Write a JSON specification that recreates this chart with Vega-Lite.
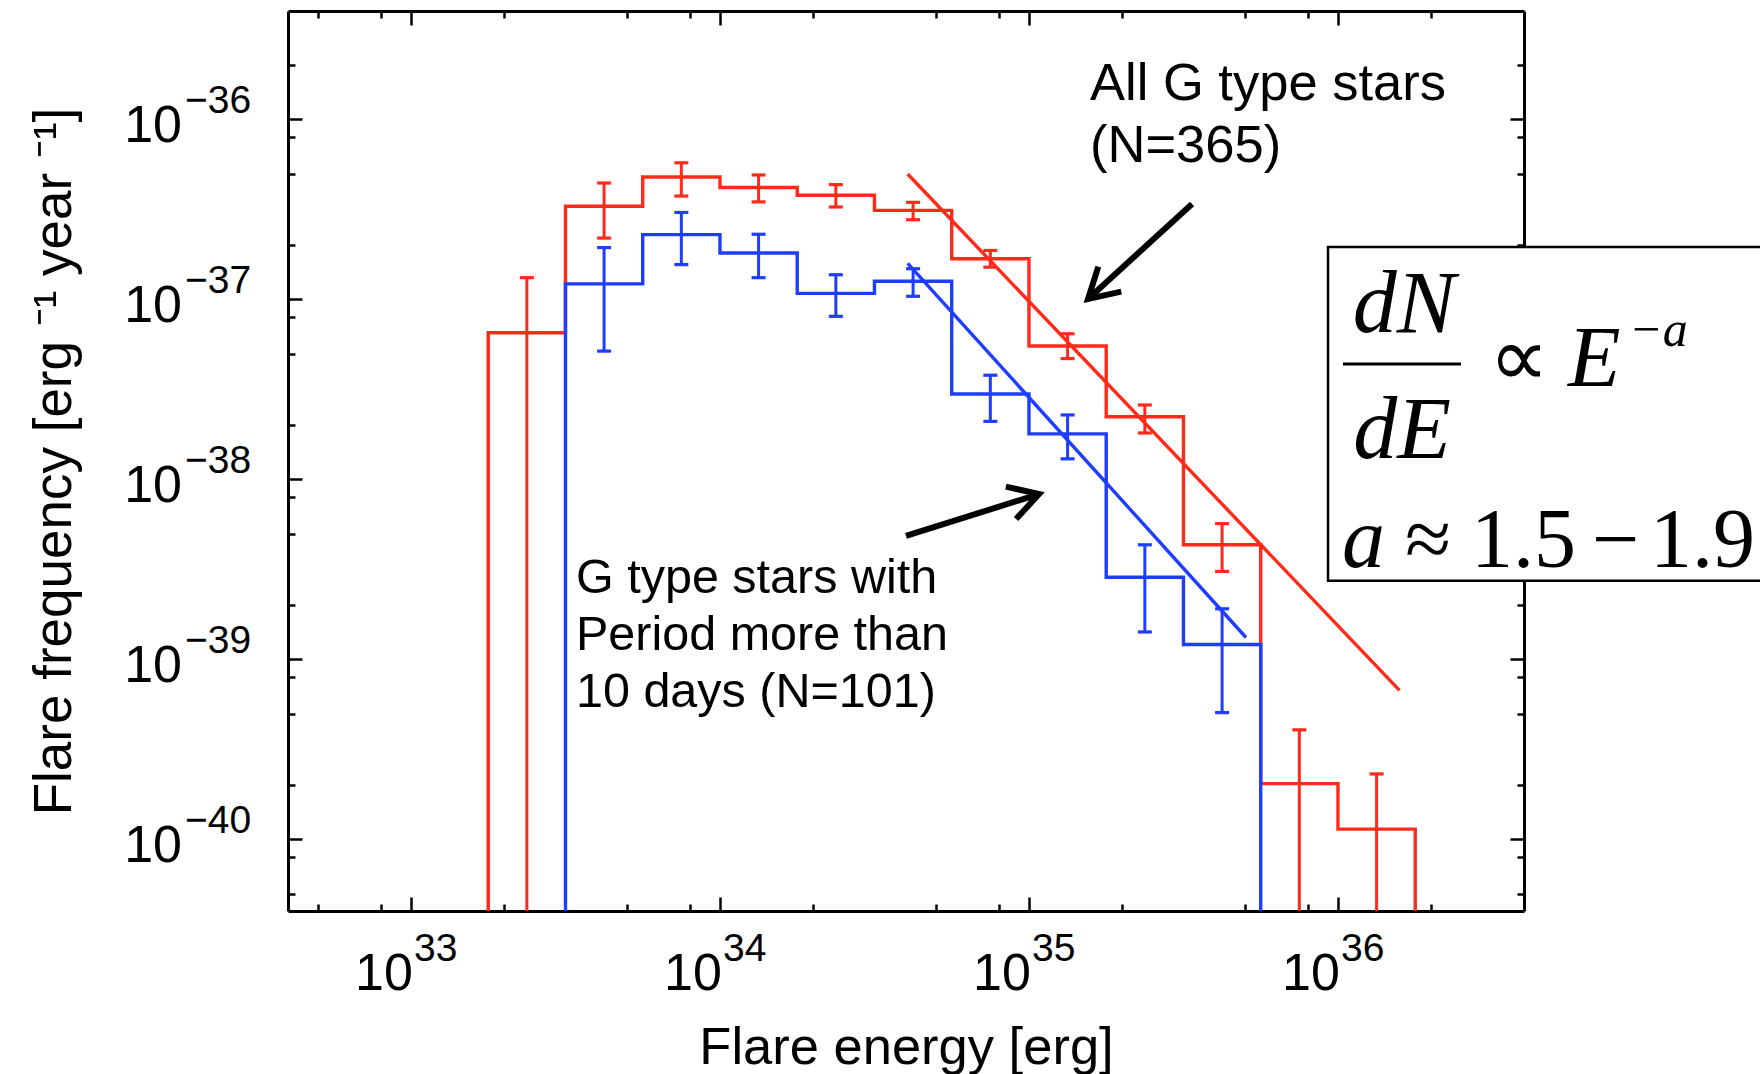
{
  "$schema": "https://vega.github.io/schema/vega-lite/v6.json",
  "width": 1236,
  "height": 900,
  "autosize": "none",
  "padding": {"left": 288, "top": 11, "right": 236, "bottom": 163},
  "background": "white",
  "config": {
    "font": "Liberation Sans",
    "view": {"stroke": null},
    "axis": {"grid": false, "labels": false, "domainColor": "black", "domainWidth": 3, "tickColor": "black", "tickWidth": 2.5}
  },
  "datasets": {
    "steps": [
      {"s": "red", "i": 0, "e": 1.7783e33, "f": 1e-42},
      {"s": "red", "i": 1, "e": 1.7783e33, "f": 6.53e-38},
      {"s": "red", "i": 2, "e": 3.1623e33, "f": 3.29e-37},
      {"s": "red", "i": 3, "e": 5.6234e33, "f": 4.78e-37},
      {"s": "red", "i": 4, "e": 1e34, "f": 4.18e-37},
      {"s": "red", "i": 5, "e": 1.7783e34, "f": 3.79e-37},
      {"s": "red", "i": 6, "e": 3.1623e34, "f": 3.12e-37},
      {"s": "red", "i": 7, "e": 5.6234e34, "f": 1.68e-37},
      {"s": "red", "i": 8, "e": 1e35, "f": 5.51e-38},
      {"s": "red", "i": 9, "e": 1.7783e35, "f": 2.23e-38},
      {"s": "red", "i": 10, "e": 3.1623e35, "f": 4.33e-39},
      {"s": "red", "i": 11, "e": 5.6234e35, "f": 2.04e-40},
      {"s": "red", "i": 12, "e": 1e36, "f": 1.14e-40},
      {"s": "red", "i": 13, "e": 1.7783e36, "f": 1.14e-40},
      {"s": "red", "i": 14, "e": 1.7783e36, "f": 1e-42},
      {"s": "blue", "i": 0, "e": 3.1623e33, "f": 1e-42},
      {"s": "blue", "i": 1, "e": 3.1623e33, "f": 1.22e-37},
      {"s": "blue", "i": 2, "e": 5.6234e33, "f": 2.29e-37},
      {"s": "blue", "i": 3, "e": 1e34, "f": 1.81e-37},
      {"s": "blue", "i": 4, "e": 1.7783e34, "f": 1.08e-37},
      {"s": "blue", "i": 5, "e": 3.1623e34, "f": 1.26e-37},
      {"s": "blue", "i": 6, "e": 5.6234e34, "f": 2.98e-38},
      {"s": "blue", "i": 7, "e": 1e35, "f": 1.79e-38},
      {"s": "blue", "i": 8, "e": 1.7783e35, "f": 2.86e-39},
      {"s": "blue", "i": 9, "e": 3.1623e35, "f": 1.21e-39},
      {"s": "blue", "i": 10, "e": 5.6234e35, "f": 1.21e-39},
      {"s": "blue", "i": 11, "e": 5.6234e35, "f": 1e-42}
    ],
    "bins": [
      {"s": "red", "c": 2.3714e33, "lo": 1e-42, "hi": 1.32e-37},
      {"s": "red", "c": 4.217e33, "lo": 2.19e-37, "hi": 4.43e-37},
      {"s": "red", "c": 7.4989e33, "lo": 3.75e-37, "hi": 5.74e-37},
      {"s": "red", "c": 1.3335e34, "lo": 3.48e-37, "hi": 4.91e-37},
      {"s": "red", "c": 2.3714e34, "lo": 3.26e-37, "hi": 4.34e-37},
      {"s": "red", "c": 4.217e34, "lo": 2.77e-37, "hi": 3.46e-37},
      {"s": "red", "c": 7.4989e34, "lo": 1.51e-37, "hi": 1.87e-37},
      {"s": "red", "c": 1.3335e35, "lo": 4.69e-38, "hi": 6.44e-38},
      {"s": "red", "c": 2.3714e35, "lo": 1.81e-38, "hi": 2.59e-38},
      {"s": "red", "c": 4.217e35, "lo": 3.08e-39, "hi": 5.68e-39},
      {"s": "red", "c": 7.4989e35, "lo": 1e-42, "hi": 4.06e-40},
      {"s": "red", "c": 1.3335e36, "lo": 1e-42, "hi": 2.31e-40},
      {"s": "blue", "c": 4.217e33, "lo": 5.16e-38, "hi": 1.94e-37},
      {"s": "blue", "c": 7.4989e33, "lo": 1.56e-37, "hi": 3.04e-37},
      {"s": "blue", "c": 1.3335e34, "lo": 1.32e-37, "hi": 2.3e-37},
      {"s": "blue", "c": 2.3714e34, "lo": 8.05e-38, "hi": 1.37e-37},
      {"s": "blue", "c": 4.217e34, "lo": 1.04e-37, "hi": 1.48e-37},
      {"s": "blue", "c": 7.4989e34, "lo": 2.1e-38, "hi": 3.79e-38},
      {"s": "blue", "c": 1.3335e35, "lo": 1.3e-38, "hi": 2.28e-38},
      {"s": "blue", "c": 2.3714e35, "lo": 1.42e-39, "hi": 4.33e-39},
      {"s": "blue", "c": 4.217e35, "lo": 5.06e-40, "hi": 1.91e-39}
    ],
    "fits": [
      {"s": "red", "e": 4.05e34, "f": 4.97e-37},
      {"s": "red", "e": 1.582e36, "f": 6.73e-40},
      {"s": "blue", "e": 4.05e34, "f": 1.586e-37},
      {"s": "blue", "e": 5.04e35, "f": 1.323e-39}
    ],
    "arrows": [
      {"id": 1, "x": 3.37e35, "y": 3.39e-37, "x2": 1.553e35, "y2": 1.005e-37},
      {"id": 2, "x": 4.0e34, "y": 4.85e-39, "x2": 1.078e35, "y2": 8.29e-39}
    ],
    "notes": [
      {"id": "all", "t": "All G type stars\n(N=365)", "x": 1.576e35, "y": 1.281e-36},
      {"id": "p10", "t": "G type stars with\nPeriod more than\n10 days (N=101)", "x": 3.42e33, "y": 2.34e-39}
    ],
    "box": [
      {"x": 9.285e35, "x2": 2.7e37, "y": 1.954e-37, "y2": 2.73e-39}
    ],
    "bar": [
      {"x": 1.038e36, "x2": 2.502e36, "y": 4.37e-38}
    ],
    "formula": [
      {"t": "dN", "x": 1.636e36, "y": 6.59e-38, "r": "frac"},
      {"t": "dE", "x": 1.612e36, "y": 1.31e-38, "r": "frac"},
      {"t": "E", "x": 5.552e36, "y": 3.3e-38, "r": "big"},
      {"t": "a", "x": 1.0305e36, "y": 3.26e-39, "r": "big"},
      {"t": "∝", "x": 3.083e36, "y": 3.3e-38, "r": "op"},
      {"t": "≈", "x": 1.648e36, "y": 3.26e-39, "r": "op"},
      {"t": "1.5", "x": 2.695e36, "y": 3.26e-39, "r": "op"},
      {"t": "−", "x": 6.639e36, "y": 3.26e-39, "r": "op"},
      {"t": "1.9", "x": 1.023e37, "y": 3.26e-39, "r": "op"},
      {"t": "−a", "x": 8.75e36, "y": 5.51e-38, "r": "sup"}
    ],
    "xlab": [
      {"v": 1e33, "exp": "33"},
      {"v": 1e34, "exp": "34"},
      {"v": 1e35, "exp": "35"},
      {"v": 1e36, "exp": "36"}
    ],
    "ylab": [
      {"v": 1e-36, "exp": "−36"},
      {"v": 1e-37, "exp": "−37"},
      {"v": 1e-38, "exp": "−38"},
      {"v": 1e-39, "exp": "−39"},
      {"v": 1e-40, "exp": "−40"}
    ]
  },
  "layer": [
    {
      "data": {"name": "steps"},
      "mark": {"type": "line", "interpolate": "step-after", "strokeWidth": 3.4, "clip": true},
      "encoding": {
        "x": {"field": "e", "type": "quantitative", "scale": {"type": "log", "domain": [4e32, 4e36]},
          "axis": {"orient": "bottom", "values": [5e32, 8e32, 1e33, 2e33, 5e33, 8e33, 1e34, 2e34, 5e34, 8e34, 1e35, 2e35, 5e35, 8e35, 1e36, 2e36],
            "tickSize": {"condition": {"test": "abs(log(datum.value)/LN10 - round(log(datum.value)/LN10)) < 0.01", "value": -14}, "value": -7},
            "title": "Flare energy [erg]", "titleFont": "Liberation Sans", "titleFontSize": 52.5, "titleFontWeight": "normal", "titleColor": "black", "titleY": 152, "titleBaseline": "alphabetic"}},
        "y": {"field": "f", "type": "quantitative", "scale": {"type": "log", "domain": [4e-41, 4e-36]},
          "axis": {"orient": "left", "values": [5e-41, 8e-41, 1e-40, 2e-40, 5e-40, 8e-40, 1e-39, 2e-39, 5e-39, 8e-39, 1e-38, 2e-38, 5e-38, 8e-38, 1e-37, 2e-37, 5e-37, 8e-37, 1e-36, 2e-36],
            "tickSize": {"condition": {"test": "abs(log(datum.value)/LN10 - round(log(datum.value)/LN10)) < 0.01", "value": -14}, "value": -7},
            "title": "Flare frequency [erg ⁻¹  year ⁻¹]", "titleFont": "Liberation Sans", "titleFontSize": 53, "titleFontWeight": "normal", "titleColor": "black", "titleX": -218, "titleBaseline": "alphabetic"}},
        "color": {"field": "s", "type": "nominal", "scale": {"domain": ["red", "blue"], "range": ["#ff2a1a", "#1f3dff"]}, "legend": null},
        "order": {"field": "i", "type": "quantitative"}
      }
    },
    {
      "data": {"name": "bins"},
      "mark": {"type": "rule", "strokeWidth": 3, "clip": true},
      "encoding": {
        "x": {"field": "c", "type": "quantitative", "scale": {"type": "log", "domain": [4e32, 4e36]},
          "axis": {"orient": "top", "values": [5e32, 8e32, 1e33, 2e33, 5e33, 8e33, 1e34, 2e34, 5e34, 8e34, 1e35, 2e35, 5e35, 8e35, 1e36, 2e36],
            "tickSize": {"condition": {"test": "abs(log(datum.value)/LN10 - round(log(datum.value)/LN10)) < 0.01", "value": -14}, "value": -7},
            "title": null}},
        "y": {"field": "lo", "type": "quantitative", "scale": {"type": "log", "domain": [4e-41, 4e-36]},
          "axis": {"orient": "right", "values": [5e-41, 8e-41, 1e-40, 2e-40, 5e-40, 8e-40, 1e-39, 2e-39, 5e-39, 8e-39, 1e-38, 2e-38, 5e-38, 8e-38, 1e-37, 2e-37, 5e-37, 8e-37, 1e-36, 2e-36],
            "tickSize": {"condition": {"test": "abs(log(datum.value)/LN10 - round(log(datum.value)/LN10)) < 0.01", "value": -14}, "value": -7},
            "title": null}},
        "y2": {"field": "hi"},
        "color": {"field": "s", "type": "nominal", "scale": {"domain": ["red", "blue"], "range": ["#ff2a1a", "#1f3dff"]}, "legend": null}
      }
    },
    {
      "data": {"name": "bins"},
      "mark": {"type": "tick", "orient": "horizontal", "size": 14, "thickness": 3.2, "opacity": 1, "clip": true},
      "encoding": {
        "x": {"field": "c", "type": "quantitative", "scale": {"type": "log", "domain": [4e32, 4e36]}, "axis": null},
        "y": {"field": "lo", "type": "quantitative", "scale": {"type": "log", "domain": [4e-41, 4e-36]}, "axis": null},
        "color": {"field": "s", "type": "nominal", "scale": {"domain": ["red", "blue"], "range": ["#ff2a1a", "#1f3dff"]}, "legend": null}
      }
    },
    {
      "data": {"name": "bins"},
      "mark": {"type": "tick", "orient": "horizontal", "size": 14, "thickness": 3.2, "opacity": 1, "clip": true},
      "encoding": {
        "x": {"field": "c", "type": "quantitative", "scale": {"type": "log", "domain": [4e32, 4e36]}, "axis": null},
        "y": {"field": "hi", "type": "quantitative", "scale": {"type": "log", "domain": [4e-41, 4e-36]}, "axis": null},
        "color": {"field": "s", "type": "nominal", "scale": {"domain": ["red", "blue"], "range": ["#ff2a1a", "#1f3dff"]}, "legend": null}
      }
    },
    {
      "data": {"name": "fits"},
      "mark": {"type": "line", "strokeWidth": 3.4},
      "encoding": {
        "x": {"field": "e", "type": "quantitative", "scale": {"type": "log", "domain": [4e32, 4e36]}, "axis": null},
        "y": {"field": "f", "type": "quantitative", "scale": {"type": "log", "domain": [4e-41, 4e-36]}, "axis": null},
        "color": {"field": "s", "type": "nominal", "scale": {"domain": ["red", "blue"], "range": ["#ff2a1a", "#1f3dff"]}, "legend": null}
      }
    },
    {
      "data": {"name": "arrows"},
      "mark": {"type": "rule", "strokeWidth": 6, "color": "black"},
      "encoding": {
        "x": {"field": "x", "type": "quantitative", "scale": {"type": "log", "domain": [4e32, 4e36]}, "axis": null},
        "y": {"field": "y", "type": "quantitative", "scale": {"type": "log", "domain": [4e-41, 4e-36]}, "axis": null},
        "x2": {"field": "x2"},
        "y2": {"field": "y2"}
      }
    },
    {
      "data": {"name": "arrows"},
      "transform": [{"filter": "datum.id == 1"}],
      "mark": {"type": "point", "shape": "M -0.866 -0.5 L 0 0 L -0.866 0.5", "size": 4624, "angle": 137.6, "filled": false, "stroke": "black", "strokeWidth": 6, "opacity": 1, "strokeJoin": "miter", "strokeCap": "butt"},
      "encoding": {
        "x": {"field": "x2", "type": "quantitative", "scale": {"type": "log", "domain": [4e32, 4e36]}, "axis": null},
        "y": {"field": "y2", "type": "quantitative", "scale": {"type": "log", "domain": [4e-41, 4e-36]}, "axis": null}
      }
    },
    {
      "data": {"name": "arrows"},
      "transform": [{"filter": "datum.id == 2"}],
      "mark": {"type": "point", "shape": "M -0.866 -0.5 L 0 0 L -0.866 0.5", "size": 4624, "angle": 342.5, "filled": false, "stroke": "black", "strokeWidth": 6, "opacity": 1, "strokeJoin": "miter", "strokeCap": "butt"},
      "encoding": {
        "x": {"field": "x2", "type": "quantitative", "scale": {"type": "log", "domain": [4e32, 4e36]}, "axis": null},
        "y": {"field": "y2", "type": "quantitative", "scale": {"type": "log", "domain": [4e-41, 4e-36]}, "axis": null}
      }
    },
    {
      "data": {"name": "notes"},
      "transform": [{"filter": "datum.id == 'all'"}],
      "mark": {"type": "text", "align": "left", "baseline": "alphabetic", "font": "Liberation Sans", "fontSize": 52.5, "lineHeight": 62, "lineBreak": "\n", "color": "black"},
      "encoding": {
        "x": {"field": "x", "type": "quantitative", "scale": {"type": "log", "domain": [4e32, 4e36]}, "axis": null},
        "y": {"field": "y", "type": "quantitative", "scale": {"type": "log", "domain": [4e-41, 4e-36]}, "axis": null},
        "text": {"field": "t"}
      }
    },
    {
      "data": {"name": "notes"},
      "transform": [{"filter": "datum.id == 'p10'"}],
      "mark": {"type": "text", "align": "left", "baseline": "alphabetic", "font": "Liberation Sans", "fontSize": 48.5, "lineHeight": 57, "lineBreak": "\n", "color": "black"},
      "encoding": {
        "x": {"field": "x", "type": "quantitative", "scale": {"type": "log", "domain": [4e32, 4e36]}, "axis": null},
        "y": {"field": "y", "type": "quantitative", "scale": {"type": "log", "domain": [4e-41, 4e-36]}, "axis": null},
        "text": {"field": "t"}
      }
    },
    {
      "data": {"name": "box"},
      "mark": {"type": "rect", "fill": "white", "stroke": "black", "strokeWidth": 2.5},
      "encoding": {
        "x": {"field": "x", "type": "quantitative", "scale": {"type": "log", "domain": [4e32, 4e36]}, "axis": null},
        "y": {"field": "y", "type": "quantitative", "scale": {"type": "log", "domain": [4e-41, 4e-36]}, "axis": null},
        "x2": {"field": "x2"},
        "y2": {"field": "y2"}
      }
    },
    {
      "data": {"name": "bar"},
      "mark": {"type": "rule", "strokeWidth": 3, "color": "black"},
      "encoding": {
        "x": {"field": "x", "type": "quantitative", "scale": {"type": "log", "domain": [4e32, 4e36]}, "axis": null},
        "y": {"field": "y", "type": "quantitative", "scale": {"type": "log", "domain": [4e-41, 4e-36]}, "axis": null},
        "x2": {"field": "x2"}
      }
    },
    {
      "data": {"name": "formula"},
      "transform": [{"filter": "datum.r == 'frac'"}],
      "mark": {"type": "text", "align": "center", "baseline": "alphabetic", "font": "Liberation Serif", "fontStyle": "italic", "fontSize": 88, "color": "black"},
      "encoding": {
        "x": {"field": "x", "type": "quantitative", "scale": {"type": "log", "domain": [4e32, 4e36]}, "axis": null},
        "y": {"field": "y", "type": "quantitative", "scale": {"type": "log", "domain": [4e-41, 4e-36]}, "axis": null},
        "text": {"field": "t"}
      }
    },
    {
      "data": {"name": "formula"},
      "transform": [{"filter": "datum.r == 'big'"}],
      "mark": {"type": "text", "align": "left", "baseline": "alphabetic", "font": "Liberation Serif", "fontStyle": "italic", "fontSize": 86, "color": "black"},
      "encoding": {
        "x": {"field": "x", "type": "quantitative", "scale": {"type": "log", "domain": [4e32, 4e36]}, "axis": null},
        "y": {"field": "y", "type": "quantitative", "scale": {"type": "log", "domain": [4e-41, 4e-36]}, "axis": null},
        "text": {"field": "t"}
      }
    },
    {
      "data": {"name": "formula"},
      "transform": [{"filter": "datum.r == 'op'"}],
      "mark": {"type": "text", "align": "left", "baseline": "alphabetic", "font": "Liberation Serif", "fontSize": 84, "color": "black"},
      "encoding": {
        "x": {"field": "x", "type": "quantitative", "scale": {"type": "log", "domain": [4e32, 4e36]}, "axis": null},
        "y": {"field": "y", "type": "quantitative", "scale": {"type": "log", "domain": [4e-41, 4e-36]}, "axis": null},
        "text": {"field": "t"}
      }
    },
    {
      "data": {"name": "formula"},
      "transform": [{"filter": "datum.r == 'sup'"}],
      "mark": {"type": "text", "align": "left", "baseline": "alphabetic", "font": "Liberation Serif", "fontStyle": "italic", "fontSize": 50, "color": "black"},
      "encoding": {
        "x": {"field": "x", "type": "quantitative", "scale": {"type": "log", "domain": [4e32, 4e36]}, "axis": null},
        "y": {"field": "y", "type": "quantitative", "scale": {"type": "log", "domain": [4e-41, 4e-36]}, "axis": null},
        "text": {"field": "t"}
      }
    },
    {
      "data": {"name": "xlab"},
      "mark": {"type": "text", "text": "10", "align": "right", "baseline": "alphabetic", "dx": 2, "dy": 79, "font": "Liberation Sans", "fontSize": 52, "color": "black"},
      "encoding": {
        "x": {"field": "v", "type": "quantitative", "scale": {"type": "log", "domain": [4e32, 4e36]}, "axis": null},
        "y": {"datum": 4e-41, "type": "quantitative", "scale": {"type": "log", "domain": [4e-41, 4e-36]}, "axis": null}
      }
    },
    {
      "data": {"name": "xlab"},
      "mark": {"type": "text", "align": "left", "baseline": "alphabetic", "dx": 3, "dy": 50, "font": "Liberation Sans", "fontSize": 39, "color": "black"},
      "encoding": {
        "x": {"field": "v", "type": "quantitative", "scale": {"type": "log", "domain": [4e32, 4e36]}, "axis": null},
        "y": {"datum": 4e-41, "type": "quantitative", "scale": {"type": "log", "domain": [4e-41, 4e-36]}, "axis": null},
        "text": {"field": "exp"}
      }
    },
    {
      "data": {"name": "ylab"},
      "mark": {"type": "text", "text": "10", "align": "right", "baseline": "alphabetic", "dx": -106, "dy": 23, "font": "Liberation Sans", "fontSize": 52, "color": "black"},
      "encoding": {
        "x": {"datum": 4e32, "type": "quantitative", "scale": {"type": "log", "domain": [4e32, 4e36]}, "axis": null},
        "y": {"field": "v", "type": "quantitative", "scale": {"type": "log", "domain": [4e-41, 4e-36]}, "axis": null}
      }
    },
    {
      "data": {"name": "ylab"},
      "mark": {"type": "text", "align": "left", "baseline": "alphabetic", "dx": -103, "dy": -6, "font": "Liberation Sans", "fontSize": 39, "color": "black"},
      "encoding": {
        "x": {"datum": 4e32, "type": "quantitative", "scale": {"type": "log", "domain": [4e32, 4e36]}, "axis": null},
        "y": {"field": "v", "type": "quantitative", "scale": {"type": "log", "domain": [4e-41, 4e-36]}, "axis": null},
        "text": {"field": "exp"}
      }
    }
  ],
  "resolve": {"axis": {"x": "independent", "y": "independent"}}
}
